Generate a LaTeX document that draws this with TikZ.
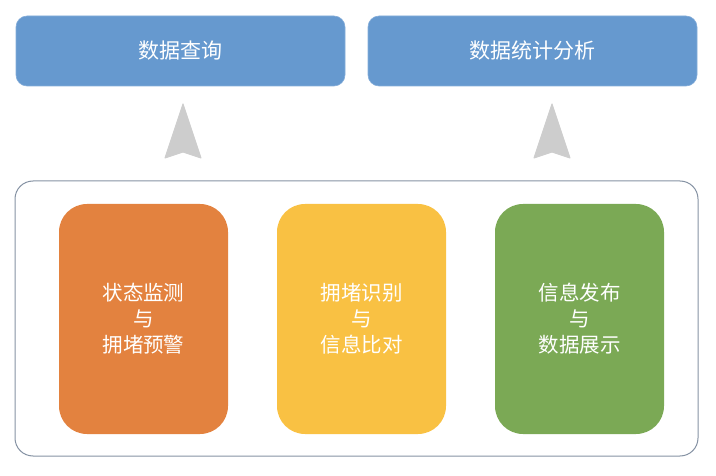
\documentclass[tikz,border=0pt]{standalone}
\usepackage{fontspec}
\newfontfamily\cjk{Noto Sans CJK SC}
\usetikzlibrary{calc}
\definecolor{topblue}{HTML}{6699CF}
\definecolor{orangeb}{HTML}{E3823F}
\definecolor{yellowb}{HTML}{F9C143}
\definecolor{greenb}{HTML}{7BA955}
\definecolor{arrowgray}{HTML}{CDCDCD}
\definecolor{frameline}{HTML}{8592A3}
\tikzset{
  topbox/.style={fill=topblue, draw=topblue!80!white, line width=0.6pt, rounded corners=11pt, minimum width=329pt, minimum height=70pt, inner sep=0pt, text=white, font=\cjk\fontsize{21}{25}\selectfont},
  innerbox/.style={rounded corners=28pt, minimum width=169pt, minimum height=230pt, inner sep=0pt, text=white, align=center, font=\cjk\fontsize{20.5}{26}\selectfont},
  frame/.style={draw=frameline, line width=1pt, rounded corners=18pt},
  uparrow/.style={fill=arrowgray, draw=arrowgray, line width=1pt, line join=round}
}
\begin{document}
\begin{tikzpicture}[x=1pt,y=-1pt]
\useasboundingbox (0,0) rectangle (716,476);
\node[topbox] (q) at (180.5,51) {数据查询};
\node[topbox] (s) at (532.5,51) {数据统计分析};
\node[frame, minimum width=683pt, minimum height=275pt, inner sep=0pt] (f) at (356.5,318.5) {};
\node[innerbox, fill=orangeb] (o) at (143.5,319) {状态监测\\与\\拥堵预警};
\node[innerbox, fill=yellowb] (y) at (361.5,319) {拥堵识别\\与\\信息比对};
\node[innerbox, fill=greenb] (g) at (579.5,319) {信息发布\\与\\数据展示};
\coordinate (a1) at (183,104);
\coordinate (a2) at (552,104);
\foreach \a in {a1,a2}{
  \fill[uparrow] (\a) -- ($(\a)+(18,54)$) -- ($(\a)+(0,48)$) -- ($(\a)+(-18,54)$) -- cycle;
}
\end{tikzpicture}
\end{document}
